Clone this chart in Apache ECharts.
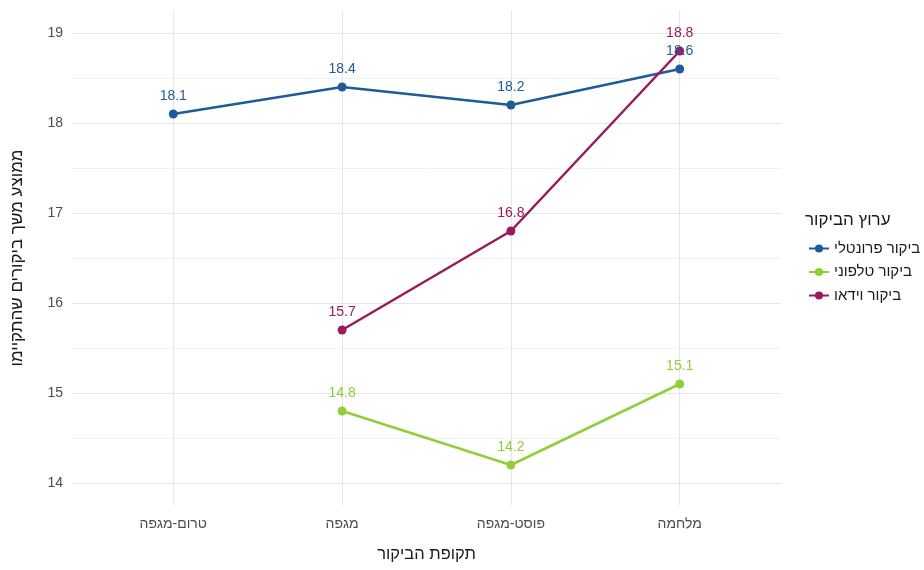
<!DOCTYPE html>
<html>
<head>
<meta charset="utf-8">
<script src="https://cdn.jsdelivr.net/npm/echarts@6/dist/echarts.min.js"></script>
<style>
  html, body { margin: 0; padding: 0; background: #ffffff; }
  #chart { width: 924px; height: 570px; }
</style>
</head>
<body>
<div id="chart"></div>
<script>
// Visit periods (x positions 0..3)
const periods = ['טרום-מגפה', 'מגפה', 'פוסט-מגפה', 'מלחמה'];

// Average duration of visits held, per visit channel
const frontal = [18.1, 18.4, 18.2, 18.6];
const phone   = [null, 14.8, 14.2, 15.1];
const video   = [null, 15.7, 16.8, 18.8];

const seriesNames = ['ביקור פרונטלי', 'ביקור טלפוני', 'ביקור וידאו'];
const seriesColors = ['#1f5b97', '#90cf38', '#9a1b5c'];

const FONT = "'Liberation Sans', 'DejaVu Sans', Arial, sans-serif";
const isInt = v => Math.abs(v - Math.round(v)) < 1e-6;

function toPairs(values) {
  const out = [];
  values.forEach((v, i) => { if (v !== null) out.push([i, v]); });
  return out;
}

function makeSeries(name, values, color) {
  return {
    name: name,
    type: 'line',
    data: toPairs(values),
    symbol: 'circle',
    symbolSize: 9,
    lineStyle: { width: 2.5, color: color },
    itemStyle: { color: color },
    label: {
      show: true,
      position: 'top',
      distance: 6,
      color: color,
      fontFamily: FONT,
      fontSize: 14,
      formatter: p => p.value[1].toFixed(1)
    },
    emphasis: { disabled: true },
    z: 3
  };
}

const chart = echarts.init(document.getElementById('chart'), null, { renderer: 'canvas' });

chart.setOption({
  animation: false,
  backgroundColor: '#ffffff',
  textStyle: { fontFamily: FONT },
  grid: { left: 72, right: 143, top: 10.5, bottom: 64.5, containLabel: false },
  graphic: [{
    type: 'text',
    left: 805,
    top: 212,
    style: {
      text: 'ערוץ הביקור',
      fontFamily: FONT,
      fontSize: 17,
      fill: '#1a1a1a'
    }
  }],
  legend: {
    orient: 'vertical',
    left: 803,
    top: 236,
    itemWidth: 20,
    itemHeight: 10,
    itemGap: 8.5,
    data: seriesNames,
    textStyle: { fontFamily: FONT, fontSize: 15, color: '#1a1a1a' }
  },
  xAxis: {
    type: 'value',
    min: -0.6,
    max: 3.6,
    interval: 0.2,
    name: 'תקופת הביקור',
    nameLocation: 'middle',
    nameGap: 40,
    nameTextStyle: { fontFamily: FONT, fontSize: 16.5, color: '#1a1a1a' },
    axisLine: { show: false },
    axisTick: { show: false },
    axisLabel: {
      interval: 0,
      margin: 12,
      fontFamily: FONT,
      fontSize: 14,
      color: '#4d4d4d',
      showMinLabel: true,
      showMaxLabel: true,
      formatter: v => isInt(v) ? (periods[Math.round(v)] || '') : ''
    },
    splitLine: {
      show: true,
      lineStyle: {
        width: 1,
        color: ['rgba(0,0,0,0)', 'rgba(0,0,0,0)', 'rgba(0,0,0,0)', '#e6e6e6', 'rgba(0,0,0,0)']
      }
    }
  },
  yAxis: {
    type: 'value',
    min: 13.75,
    max: 19.25,
    interval: 0.25,
    name: 'ממוצע משך ביקורים שהתקיימו',
    nameLocation: 'middle',
    nameRotate: 90,
    nameGap: 46,
    nameTextStyle: { fontFamily: FONT, fontSize: 17, color: '#1a1a1a' },
    axisLine: { show: false },
    axisTick: { show: false },
    axisLabel: {
      interval: 0,
      margin: 9,
      fontFamily: FONT,
      fontSize: 14,
      color: '#4d4d4d',
      formatter: v => isInt(v) ? String(Math.round(v)) : ''
    },
    splitLine: {
      show: true,
      lineStyle: {
        width: 1,
        color: ['rgba(0,0,0,0)', '#e6e6e6', 'rgba(0,0,0,0)', '#f2f2f2']
      }
    }
  },
  series: [
    makeSeries(seriesNames[0], frontal, seriesColors[0]),
    makeSeries(seriesNames[1], phone, seriesColors[1]),
    makeSeries(seriesNames[2], video, seriesColors[2])
  ]
});
</script>
</body>
</html>
